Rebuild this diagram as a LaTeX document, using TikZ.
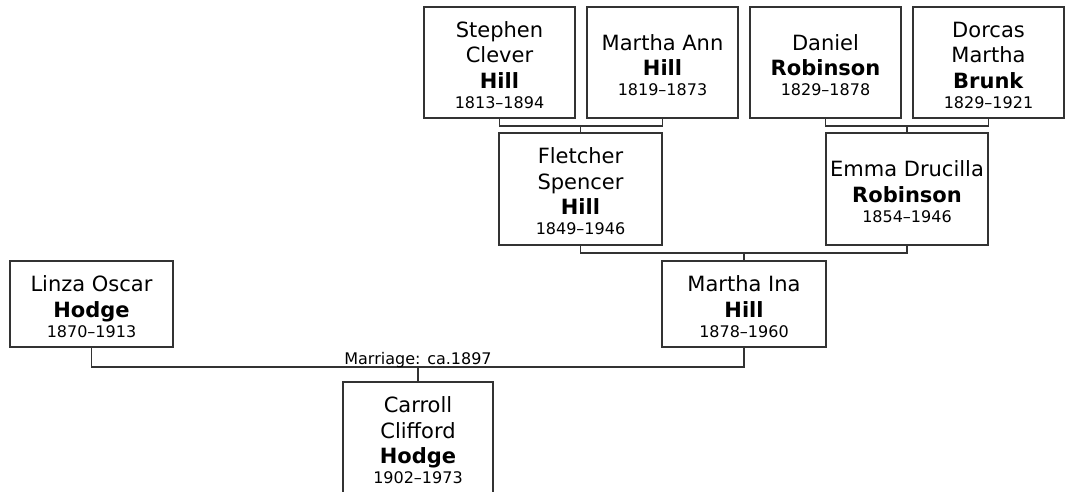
\documentclass[tikz,border=0pt]{standalone}
\usepackage{fontspec}
\setmainfont{DejaVu Sans}
\newcommand\pdates[1]{{\fontsize{16}{19}\selectfont #1}}
\newcommand\tpstrut{\rule{0pt}{21pt}}
\definecolor{lncol}{RGB}{51,51,51}
\tikzset{
  person/.style={draw=lncol, line width=1.3pt, fill=white, align=center,
    inner sep=0pt, font=\fontsize{21}{25.5}\selectfont, text=black},
  tall/.style={minimum height=111pt},
  short/.style={minimum height=86pt},
  link/.style={draw=lncol, line width=1.2pt},
  marr/.style={font=\fontsize{16}{19}\selectfont, text=black, inner sep=0pt}
}
\begin{document}
\begin{tikzpicture}[x=1pt,y=-1pt]
\useasboundingbox (0,0) rectangle (1065,491);
% generation 1
\node[person, tall, minimum width=151pt] (sch) at (499.5,62.5) {\tpstrut Stephen\\Clever\\\textbf{Hill}\\[-5.5pt]\pdates{1813–1894}};
\node[person, tall, minimum width=151pt] (mah) at (662.5,62.5) {\tpstrut Martha Ann\\\textbf{Hill}\\[-5.5pt]\pdates{1819–1873}};
\node[person, tall, minimum width=151pt] (dr) at (825.5,62.5) {\tpstrut Daniel\\\textbf{Robinson}\\[-5.5pt]\pdates{1829–1878}};
\node[person, tall, minimum width=151pt] (dmb) at (988.5,62.5) {\tpstrut Dorcas\\Martha\\\textbf{Brunk}\\[-5.5pt]\pdates{1829–1921}};
% generation 2
\node[person, minimum height=112pt, minimum width=163pt] (fsh) at (580.5,189) {\tpstrut Fletcher\\Spencer\\\textbf{Hill}\\[-5.5pt]\pdates{1849–1946}};
\node[person, minimum height=112pt, minimum width=162pt] (edr) at (907,189) {\tpstrut Emma Drucilla\\\textbf{Robinson}\\[-5.5pt]\pdates{1854–1946}};
% generation 3
\node[person, short, minimum width=163pt] (loh) at (91.5,304) {\tpstrut Linza Oscar\\\textbf{Hodge}\\[-5.5pt]\pdates{1870–1913}};
\node[person, short, minimum width=164pt] (mih) at (744,304) {\tpstrut Martha Ina\\\textbf{Hill}\\[-5.5pt]\pdates{1878–1960}};
% generation 4
\node[person, minimum height=112pt, minimum width=150pt] (cch) at (418,438) {\tpstrut Carroll\\Clifford\\\textbf{Hodge}\\[-5.5pt]\pdates{1902–1973}};
% junctions
\coordinate (j1) at (580.5,126);
\coordinate (j2) at (907,126);
\coordinate (j3) at (744,253);
\coordinate (j4) at (418,367);
\draw[link] (sch.south) |- (j1) -| (mah.south);
\draw[link] (j1) -- (fsh.north);
\draw[link] (dr.south) |- (j2) -| (dmb.south);
\draw[link] (j2) -- (edr.north);
\draw[link] (fsh.south) |- (j3) -| (edr.south);
\draw[link] (j3) -- (mih.north);
\draw[link] (loh.south) |- (j4) -| (mih.south);
\draw[link] (j4) -- (cch.north);
\node[marr, anchor=base] (ml) at (418,364) {Marriage: ca.1897};
\end{tikzpicture}
\end{document}
